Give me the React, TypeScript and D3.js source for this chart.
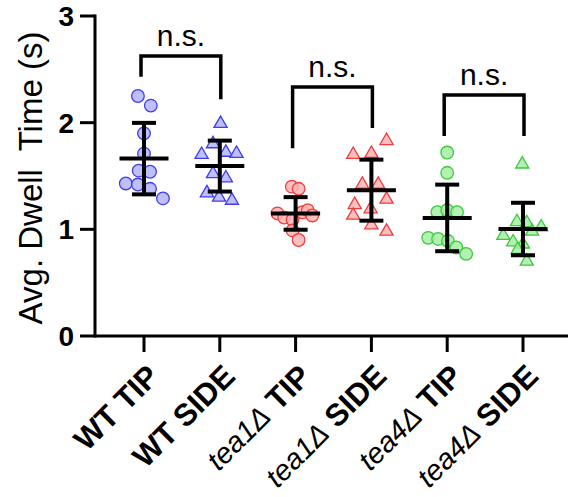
import React from "react";
import * as d3 from "d3";

// Group labels along the x axis
const categories = ["WT TIP", "WT SIDE", "tea1Δ TIP", "tea1Δ SIDE", "tea4Δ TIP", "tea4Δ SIDE"];

// Per-cell average dwell times (s)
const wtTip = [2.25, 2.16, 1.9, 1.71, 1.55, 1.54, 1.43, 1.42, 1.38, 1.29];
const wtSide = [2.0, 1.81, 1.71, 1.73, 1.72, 1.53, 1.49, 1.35, 1.31, 1.28];
const tea1Tip = [1.4, 1.38, 1.15, 1.11, 1.09, 1.16, 1.18, 1.13, 0.99, 0.9];
const tea1Side = [1.84, 1.71, 1.72, 1.43, 1.43, 1.29, 1.24, 1.2, 1.14, 1.05, 0.99];
const tea4Tip = [1.72, 1.53, 1.16, 1.18, 1.16, 0.92, 0.91, 0.89, 0.83, 0.77];
const tea4Side = [1.62, 1.08, 1.07, 1.03, 0.99, 0.95, 0.89, 0.87, 0.82, 0.71];

// Horizontal scatter of each point, in fractions of the category spacing
const wtTipJitter = [-0.08, 0.09, 0, 0, -0.07, 0.08, -0.24, -0.08, 0.08, 0.25];
const wtSideJitter = [0.01, -0.09, -0.24, 0.08, 0.22, -0.09, 0.08, -0.17, -0.01, 0.16];
const tea1TipJitter = [-0.05, 0.04, -0.24, -0.15, -0.04, 0.09, 0.16, 0.22, -0.04, 0.04];
const tea1SideJitter = [0.2, -0.24, 0, -0.12, 0.09, 0.2, -0.22, -0.01, -0.24, 0, 0.2];
const tea4TipJitter = [0, 0, -0.13, 0, 0.13, -0.25, -0.12, 0.01, 0.12, 0.25];
const tea4SideJitter = [-0.01, -0.08, 0.05, 0.24, 0.12, -0.26, -0.13, 0, -0.07, 0.05];

const groupValues = [wtTip, wtSide, tea1Tip, tea1Side, tea4Tip, tea4Side];
const groupJitter = [wtTipJitter, wtSideJitter, tea1TipJitter, tea1SideJitter, tea4TipJitter, tea4SideJitter];
const groupShape = ["circle", "triangle", "circle", "triangle", "circle", "triangle"];
const groupFill = ["#b4b4fa", "#b4b4fa", "#fab4b4", "#fab4b4", "#a6eea6", "#a6eea6"];
const groupStroke = ["#3c3cf0", "#3c3cf0", "#f03c3c", "#f03c3c", "#3cc83c", "#3cc83c"];

// Significance brackets: [left group, right group, top, left leg end, right leg end]
const bracketLeft = [0, 2, 4];
const bracketRight = [1, 3, 5];
const bracketTop = [2.625, 2.335, 2.26];
const bracketLeftEnd = [2.43, 1.76, 1.875];
const bracketRightEnd = [2.22, 1.95, 1.875];
const bracketLabel = ["n.s.", "n.s.", "n.s."];

const yTicks = [0, 1, 2, 3];

const W = 568;
const H = 497;

export default function App() {
  const y = d3.scaleLinear().domain([0, 3]).range([336, 16]);
  const x = d3.scalePoint<string>().domain(categories).range([144, 523]);
  const step = x.step();
  const axisX = 95;
  const axisY = y(0);

  const tri = d3.symbol().type(d3.symbolTriangle).size(75)();

  const renderLabel = (c: string) => {
    const m = c.match(/^(tea\d)Δ (.*)$/);
    if (m) {
      return (
        <>
          <tspan fontStyle="italic" fontWeight="normal" fontSize={29}>{m[1]}</tspan>
          <tspan fontStyle="italic" fontWeight="normal" fontSize={29}>Δ</tspan>
          <tspan fontWeight="bold"> {m[2]}</tspan>
        </>
      );
    }
    return <tspan fontWeight="bold">{c}</tspan>;
  };

  return (
    <svg width={W} height={H} style={{ position: "absolute", left: 0, top: 0, background: "#fff" }}
      fontFamily="'Liberation Sans', Arial, sans-serif">
      {/* y axis */}
      <line x1={axisX} x2={axisX} y1={y(3) - 1.5} y2={axisY + 1.5} stroke="#000" strokeWidth={3} />
      {yTicks.map((t) => (
        <g key={t}>
          <line x1={axisX - 15} x2={axisX} y1={y(t)} y2={y(t)} stroke="#000" strokeWidth={3} />
          <text x={74} y={y(t)} dy="0.36em" textAnchor="end" fontWeight="bold" fontSize={28}>
            {t}
          </text>
        </g>
      ))}
      <text transform={`translate(42,${(y(3) + axisY) / 2 + 2}) rotate(-90)`} textAnchor="middle" fontSize={33}
        style={{ whiteSpace: "pre" }}>
        {"Avg. Dwell  Time (s)"}
      </text>

      {/* x axis */}
      <line x1={axisX} x2={W} y1={axisY} y2={axisY} stroke="#000" strokeWidth={3} />
      {categories.map((c) => (
        <g key={c}>
          <line x1={x(c)} x2={x(c)} y1={axisY} y2={axisY + 16} stroke="#000" strokeWidth={3} />
          <text transform={`translate(${(x(c) as number) + 17},378) rotate(-45)`} textAnchor="end" fontSize={31}
            style={{ whiteSpace: "pre" }}>
            {renderLabel(c)}
          </text>
        </g>
      ))}

      {/* points */}
      {groupValues.map((vals, gi) => {
        const cx = x(categories[gi]) as number;
        return (
          <g key={gi}>
            {vals.map((v, i) => {
              const px = cx + groupJitter[gi][i] * step;
              const py = y(v);
              return groupShape[gi] === "circle" ? (
                <circle key={i} cx={px} cy={py} r={6.3} fill={groupFill[gi]} fillOpacity={0.85}
                  stroke={groupStroke[gi]} strokeWidth={1.3} />
              ) : (
                <path key={i} d={tri as string} transform={`translate(${px},${py + 1})`} fill={groupFill[gi]}
                  fillOpacity={0.85} stroke={groupStroke[gi]} strokeWidth={1.3} />
              );
            })}
          </g>
        );
      })}

      {/* mean ± SD */}
      {groupValues.map((vals, gi) => {
        const cx = x(categories[gi]) as number;
        const m = d3.mean(vals) as number;
        const sd = d3.deviation(vals) as number;
        return (
          <g key={gi} stroke="#000" strokeWidth={4}>
            <line x1={cx} x2={cx} y1={y(m + sd)} y2={y(m - sd)} />
            <line x1={cx - 12} x2={cx + 12} y1={y(m + sd)} y2={y(m + sd)} />
            <line x1={cx - 12} x2={cx + 12} y1={y(m - sd)} y2={y(m - sd)} />
            <line x1={cx - 24.5} x2={cx + 24.5} y1={y(m)} y2={y(m)} />
          </g>
        );
      })}

      {/* significance brackets */}
      {bracketLeft.map((li, bi) => {
        const x1 = x(categories[li]) as number - 3;
        const x2 = x(categories[bracketRight[bi]]) as number + 1;
        const top = y(bracketTop[bi]);
        return (
          <g key={bi}>
            <path d={`M${x1},${y(bracketLeftEnd[bi])}V${top}H${x2}V${y(bracketRightEnd[bi])}`} fill="none"
              stroke="#000" strokeWidth={3.5} />
            <text x={(x1 + x2) / 2} y={top - 10} textAnchor="middle" fontSize={30}>
              {bracketLabel[bi]}
            </text>
          </g>
        );
      })}
    </svg>
  );
}
